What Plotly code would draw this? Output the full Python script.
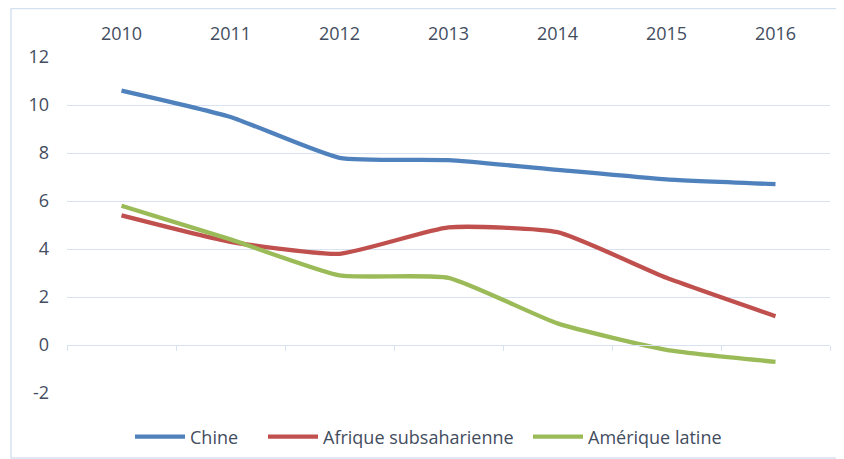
import plotly.graph_objects as go

years = ["2010", "2011", "2012", "2013", "2014", "2015", "2016"]
chine = [10.6, 9.5, 7.8, 7.7, 7.3, 6.9, 6.7]
afrique = [5.4, 4.3, 3.8, 4.9, 4.7, 2.8, 1.2]
amerique = [5.8, 4.4, 2.9, 2.8, 0.9, -0.2, -0.7]
y_ticks = [-2, 0, 2, 4, 6, 8, 10, 12]
y_labels = ["-2", "0", "2", "4", "6", "8", "10", "12"]

# page body has an 8px margin: the figure starts at (8, 8) in the window
OX, OY = 8, 8
W, H = 844 - OX, 459 - OY
# plot area in window pixels
L, R, T, B = 67, 830, 57, 393

text_col = "#434d60"
grid_col = "#d8e2f0"
font_family = "Open Sans, Lato, DejaVu Sans, sans-serif"


def px_x(p):
    return (p - L) / (R - L)


def px_y(p):
    return (B - p) / (B - T)


fig = go.Figure()
series = [("Chine", chine, "#4f81bd", "legend", 142),
          ("Afrique subsaharienne", afrique, "#c0504d", "legend2", 275),
          ("Amérique latine", amerique, "#9bbb59", "legend3", 540)]
for name, vals, col, lg, _ in series:
    fig.add_trace(go.Scatter(x=years, y=vals, name=name, mode="lines", legend=lg,
                             line=dict(color=col, width=4.3, shape="spline", smoothing=0.5)))

fig.add_trace(go.Scatter(x=years, y=[None]*len(years), xaxis="x2", showlegend=False,
                         hoverinfo="skip"))

ypos0 = (0 - y_ticks[0]) / (y_ticks[-1] - y_ticks[0])

legend_common = dict(orientation="h", xanchor="left", yanchor="middle", y=px_y(437),
                     font=dict(size=18, color=text_col), bgcolor="rgba(0,0,0,0)",
                     itemwidth=50)
legends = {}
for _, _, _, lg, xstart in series:
    legends[lg] = dict(legend_common, x=px_x(xstart - 12))

fig.update_layout(
    template="none",
    width=W, height=H,
    margin=dict(l=L - OX, r=844 - R, t=T - OY, b=459 - B, pad=0, autoexpand=False),
    paper_bgcolor="white", plot_bgcolor="white",
    font=dict(family=font_family, size=18, color=text_col),
    xaxis=dict(type="category", side="top", range=[-0.5, 6.5], showgrid=False,
               showline=False, ticks="", zeroline=False, automargin=False,
               tickfont=dict(size=18, color=text_col), ticklabelstandoff=12),
    xaxis2=dict(type="category", overlaying="x", anchor="free", position=ypos0,
                side="bottom", range=[-0.5, 6.5], showline=True, linecolor=grid_col,
                linewidth=1.2, ticks="outside", ticklen=5, tickcolor=grid_col,
                tickwidth=1.2, automargin=False,
                tickmode="array", tickvals=[i - 0.5 for i in range(8)],
                showticklabels=False, showgrid=False, zeroline=False),
    yaxis=dict(range=[-2, 12], tickvals=y_ticks, ticktext=y_labels, showgrid=True,
               gridcolor=grid_col, gridwidth=1.2, zeroline=False, showline=False,
               ticks="", automargin=False,
               tickfont=dict(size=18, color=text_col), ticklabelstandoff=17),
    shapes=[dict(type="rect", xref="paper", yref="paper",
                 x0=px_x(11), x1=px_x(837), y0=px_y(458), y1=px_y(8.5),
                 line=dict(color="#d5e1f0", width=1.5), layer="below")],
    showlegend=True,
    **legends,
)

fig.write_html("out.html")
